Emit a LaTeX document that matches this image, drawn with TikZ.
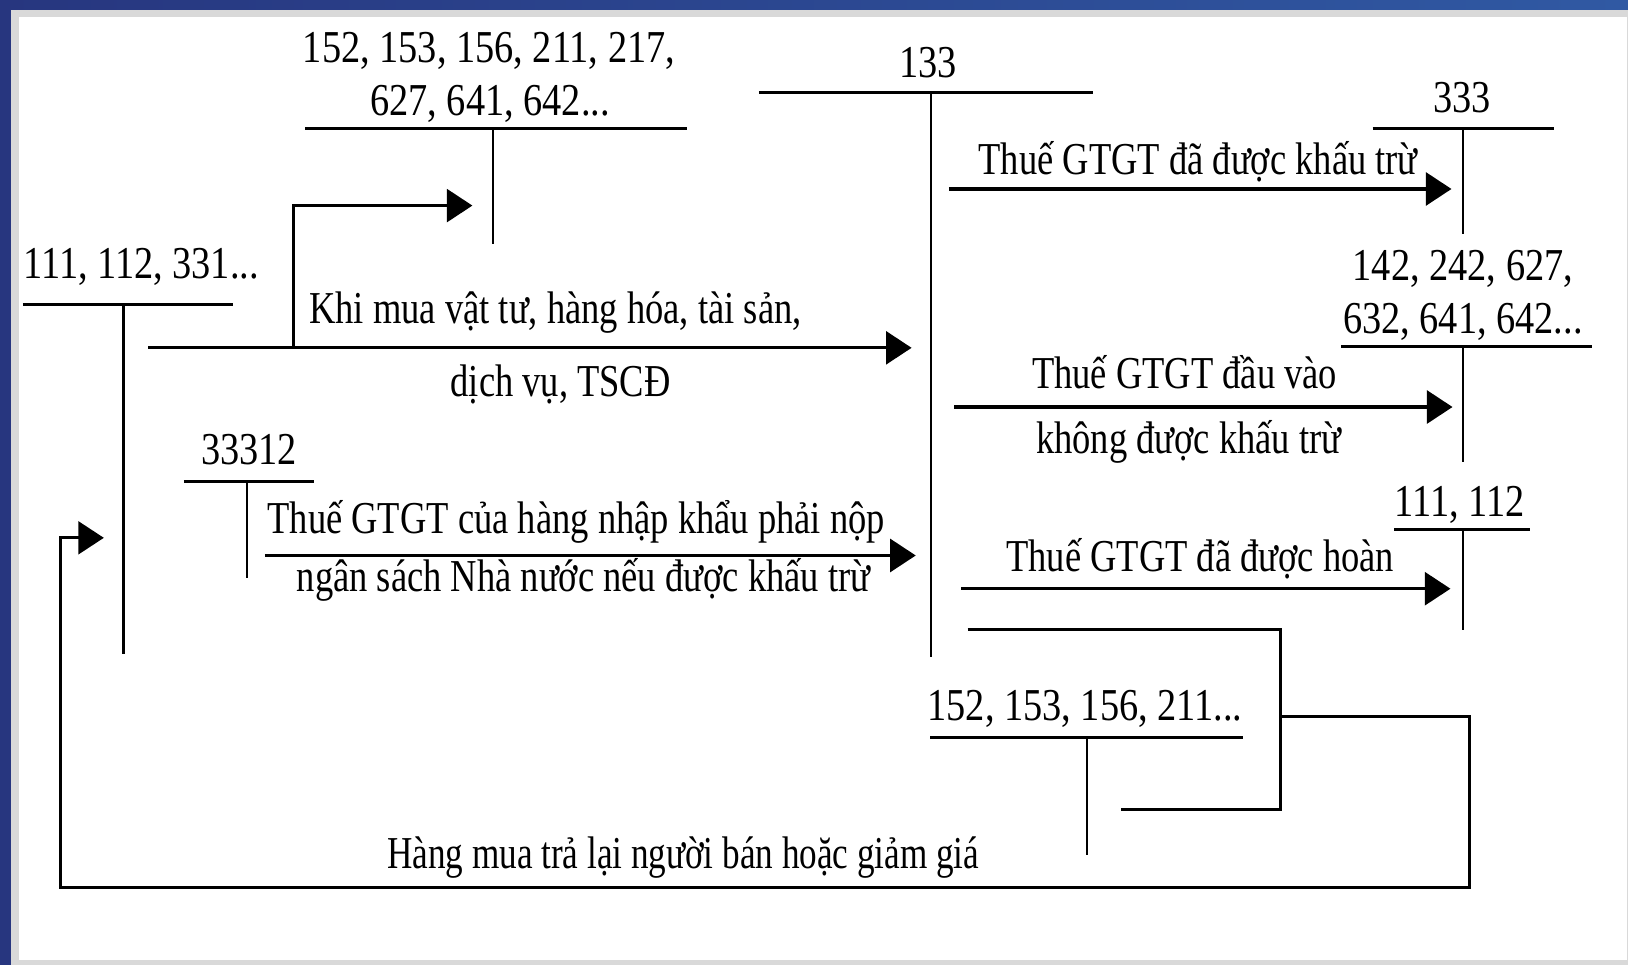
\documentclass[tikz,border=0pt]{standalone}
\usepackage{fontspec}
\setmainfont{Liberation Serif}[FakeStretch=0.8]
\newfontfamily\numfont{Liberation Serif}[FakeStretch=0.84]
\newfontfamily\tightfont{Liberation Serif}[FakeStretch=0.77]
\usetikzlibrary{arrows.meta}
\definecolor{navy}{HTML}{27367F}
\definecolor{steel}{HTML}{3059A3}
\definecolor{rim}{HTML}{D9D9D9}
\tikzset{>={Triangle[length=7pt,width=9pt]},
  every node/.style={font=\fontsize{12.5}{14.7}\selectfont,inner sep=0pt},
  acct/.style={anchor=base,font=\numfont\fontsize{12.5}{14.7}\selectfont},
  lbl/.style={anchor=base},
  tbar/.style={line width=.9pt},
  tstem/.style={line width=.6pt},
  flow/.style={->,line width=.85pt},
  loop/.style={line width=.75pt}}

\begin{document}
\begin{tikzpicture}[x=.01cm,y=-.01cm]
% frame
\fill[rim] (0,0) rectangle (1568,929);
\fill[navy] (0,0) rectangle (10.6,929);
\shade[left color=navy,right color=steel] (0,0) rectangle (1568,8.7);
\fill[white] (18.3,16.4) rectangle (1567,924.6);
\useasboundingbox (0,0) rectangle (1568,929);
% accounts
\node[acct] (n111) at (136,268) {111, 112, 331...};
\draw[tbar] (22,293)--(224,293);\draw[tstem] (119,293)--(119,630);
\node[acct] (n152a) at (471,60) {152, 153, 156, 211, 217,};
\node[acct] (n152b) at (472,111) {627, 641, 642...};
\draw[tbar] (294,124)--(662,124);\draw[tstem] (475,124)--(475,235);
\node[acct] (n133) at (894,75) {133};
\draw[tbar] (731,89)--(1053,89);\draw[tstem] (897,89)--(897,633);
\node[acct] (n333) at (1408,108) {333};
\draw[tbar] (1322,124)--(1497,124);\draw[tstem] (1409,124)--(1409,225);
\node[acct] (n142a) at (1409,270) {142, 242, 627,};
\node[acct] (n142b) at (1409,321) {632, 641, 642...};
\draw[tbar] (1292,334)--(1533,334);\draw[tstem] (1409,334)--(1409,445);
\node[acct] (n1112) at (1406,497) {111, 112};
\draw[tbar] (1343,510)--(1474,510);\draw[tstem] (1409,510)--(1409,607);
\node[acct] (n33312) at (240,447) {33312};
\draw[tbar] (177,464)--(302,464);\draw[tstem] (238,464)--(238,557);
\node[acct] (n152c) at (1045,694) {152, 153, 156, 211...};
\draw[tbar] (896,710)--(1197,710);\draw[tstem] (1047,710)--(1047,823);
% connector ends
\coordinate (s111) at (143,335);\coordinate (fork) at (283,335);
\coordinate (e133a) at (878,335);\coordinate (e152) at (455,198);
\coordinate (s33312) at (255,535);\coordinate (e133b) at (882,535);
\coordinate (s133a) at (914,182);\coordinate (e333) at (1398,182);
\coordinate (s133b) at (919,392);\coordinate (e142) at (1399,392);
\coordinate (s133c) at (926,567);\coordinate (e1112) at (1397,567);
\coordinate (s133d) at (932,606);\coordinate (c152) at (1080,780);
\coordinate (r152) at (1233,690);\coordinate (e111) at (100,518);
% flows
\draw[flow] (s111)--(e133a);
\draw[flow] (fork)|-(e152);
\node[lbl] (buy) at (535,312) {Khi mua vật tư, hàng hóa, tài sản,};
\node[lbl] (buy2) at (540,382) {dịch vụ, TSCĐ};
\draw[flow] (s33312)--(e133b);
\node[lbl] (imp) at (555,514) {Thuế GTGT của hàng nhập khẩu phải nộp};
\node[lbl] (imp2) at (562,570) {ngân sách Nhà nước nếu được khấu trừ};
\draw[flow] (s133a)--(e333);
\node[lbl] (ded) at (1154,168) {Thuế GTGT đã được khấu trừ};
\draw[flow] (s133b)--(e142);
\node[lbl] (nded) at (1141,374) {Thuế GTGT đầu vào};
\node[lbl] (nded2) at (1145,437) {không được khấu trừ};
\draw[flow] (s133c)--(e1112);
\node[lbl] (ref) at (1156,550) {Thuế GTGT đã được hoàn};
\draw[loop] (s133d)-|(1233,780)--(c152);
\draw[loop,->] (r152)-|(1415,855)-|(58,518)--(e111);
\node[lbl,font=\tightfont\fontsize{12.5}{14.7}\selectfont] (ret) at (658,836) {Hàng mua trả lại người bán hoặc giảm giá};
\end{tikzpicture}
\end{document}
